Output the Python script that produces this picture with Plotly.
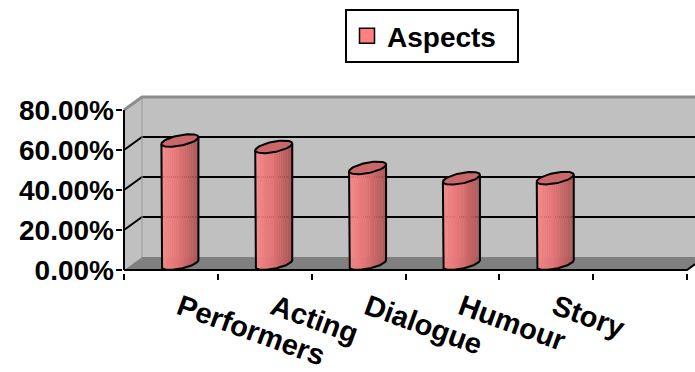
import numpy as np
import plotly.graph_objects as go

# ---- data ----
categories = ["Performers", "Acting", "Dialogue", "Humour", "Story"]
values = [61.5, 58.3, 47.8, 42.6, 42.7]          # percent
y_ticks = [0, 20, 40, 60, 80]
y_tick_labels = ["0.00%", "20.00%", "40.00%", "60.00%", "80.00%"]
n_slots = 6                                        # category slots on the floor
series_name = "Aspects"

# ---- scale / projection settings ----
W, H = 695, 372
PX_X = 563 / 6.0          # pixels per category slot
PX_Y = 2.0                # pixels per percent
DX = 18 / PX_X            # oblique depth offset (x, data units)
DY = 13 / PX_Y            # oblique depth offset (y, data units)
L_MARGIN, B_MARGIN = 123, 99

FONT = "Arial, Liberation Sans, sans-serif"
WALL = "#c0c0c0"
FLOOR = "#808080"

fig = go.Figure()


def poly(xs, ys, fill, line_color=None, line_width=0):
    fig.add_trace(go.Scatter(
        x=list(xs), y=list(ys), mode="lines", fill="toself", fillcolor=fill,
        line=dict(color=line_color or fill, width=line_width),
        hoverinfo="skip", showlegend=False))


def line(xs, ys, color, width):
    fig.add_trace(go.Scatter(
        x=list(xs), y=list(ys), mode="lines",
        line=dict(color=color, width=width),
        hoverinfo="skip", showlegend=False))


top = y_ticks[-1]
# walls and floor
poly([0, 0, DX, DX], [0, top, top + DY, DY], WALL)
poly([DX, DX, n_slots + DX, n_slots + DX], [DY, top + DY, top + DY, DY], WALL)
poly([0, n_slots, n_slots + DX, DX], [0, 0, DY, DY], FLOOR)

# gridlines on side and back wall
for v in y_ticks[1:-1]:
    line([0, DX, n_slots + DX], [v, v + DY, v + DY], "black", 2)
line([DX, DX], [DY, top + DY], "#9a9a9a", 1)
line([0, DX, n_slots + DX], [top, top + DY, top + DY], "#8c8c8c", 3)

# front edges
line([0, 0], [0, top], "black", 2)
line([0, n_slots, n_slots + DX], [0, 0, DY], "black", 2)

# ---- cylinders ----
A_PX, B_PX, C_PX = 15.5, 10.1, 6.3     # ellipse shape in pixels
t0 = np.arctan2(B_PX, A_PX)


def ell(cx, cy, t):
    ex = (A_PX * np.cos(t) + B_PX * np.sin(t)) / PX_X
    ey = (C_PX * np.sin(t)) / PX_Y
    return cx + ex, cy + ey


def shade(f):
    stops = [(0.0, (247, 137, 137)), (0.45, (228, 116, 116)), (1.0, (168, 84, 84))]
    for (f0, c0), (f1, c1) in zip(stops[:-1], stops[1:]):
        if f <= f1:
            k = (f - f0) / (f1 - f0)
            c = [round(a + (b - a) * k) for a, b in zip(c0, c1)]
            return "rgb(%d,%d,%d)" % tuple(c)
    return "rgb(%d,%d,%d)" % stops[-1][1]


N_STRIPS = 26
for i, v in enumerate(values):
    cx = i + 0.5 + DX / 2
    y0 = DY / 2
    y1 = v + DY / 2
    ts = np.linspace(t0 + np.pi, t0 + 2 * np.pi, N_STRIPS + 1)
    for k in range(N_STRIPS):
        tt = np.linspace(ts[k], ts[k + 1], 4)
        bx, by = ell(cx, y0, tt)
        tx, ty = ell(cx, y1, tt[::-1])
        xm = (A_PX * np.cos(tt.mean()) + B_PX * np.sin(tt.mean()))
        f = (xm / np.hypot(A_PX, B_PX) + 1) / 2
        poly(np.r_[bx, tx], np.r_[by, ty], shade(f), shade(f), 0.6)
    # outline of the body
    tf = np.linspace(t0 + np.pi, t0 + 2 * np.pi, 60)
    bx, by = ell(cx, y0, tf)
    lx, ly = ell(cx, y1, np.array([t0 + np.pi]))
    rx, ry = ell(cx, y1, np.array([t0]))
    line(np.r_[lx, bx, rx], np.r_[ly, by, ry], "black", 2)
    # top cap
    tc = np.linspace(0, 2 * np.pi, 80)
    cxs, cys = ell(cx, y1, tc)
    poly(cxs, cys, "#c96868", "black", 2)

# legend entry
fig.add_trace(go.Scatter(
    x=[None], y=[None], mode="markers", name=series_name + "\u00a0\u00a0",
    marker=dict(symbol="square", size=15, color="#ff8080",
                line=dict(color="black", width=1.5))))

label_pos = [i + 0.5 + DX / 2 for i in range(len(categories))]

fig.update_layout(
    width=W, height=H,
    margin=dict(l=L_MARGIN, r=0, t=0, b=B_MARGIN, pad=0),
    paper_bgcolor="white", plot_bgcolor="white",
    font=dict(family=FONT, color="black"),
    showlegend=True,
    legend=dict(
        x=(345 - L_MARGIN) / (W - L_MARGIN), y=1 - 9 / (H - B_MARGIN),
        xanchor="left", yanchor="top",
        bgcolor="white", bordercolor="black", borderwidth=2,
        font=dict(family=FONT, size=28, weight="bold", color="black"),
        itemsizing="trace",
    ),
    xaxis=dict(
        range=[-1 / PX_X, (W - 124) / PX_X],
        showgrid=False, zeroline=False, showline=False,
        tickvals=label_pos, ticktext=categories, tickangle=20,
        ticks="", ticklabelstandoff=11,
        tickfont=dict(family=FONT, size=29, weight="bold", color="black"),
        minor=dict(tickvals=list(range(n_slots + 1)), ticks="outside",
                   ticklen=6, tickwidth=2, tickcolor="black", showgrid=False),
        fixedrange=True,
    ),
    yaxis=dict(
        range=[-1.5, 135],
        showgrid=False, zeroline=False, showline=False,
        tickvals=y_ticks, ticktext=y_tick_labels,
        ticks="", ticklabelstandoff=8,
        tickfont=dict(family=FONT, size=28, weight="bold", color="black"),
        minor=dict(tickvals=y_ticks, ticks="outside",
                   ticklen=6, tickwidth=2, tickcolor="black", showgrid=False),
        fixedrange=True,
    ),
)

fig.write_html("out.html")
